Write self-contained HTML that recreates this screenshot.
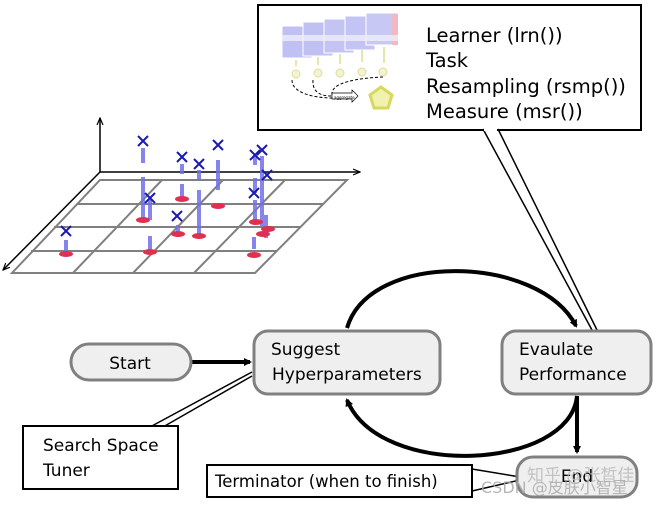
<!DOCTYPE html>
<html><head><style>
html,body{margin:0;padding:0;background:#fff;}
svg{display:block;}
text{font-family:"DejaVu Sans","Liberation Sans",sans-serif;}
</style></head><body>
<svg width="668" height="505" viewBox="0 0 668 505" xmlns="http://www.w3.org/2000/svg">
<defs>
<marker id="ah" markerWidth="8" markerHeight="8" refX="6" refY="4" orient="auto" markerUnits="userSpaceOnUse"><path d="M0,0 L8,4 L0,8 Z" fill="#000"/></marker>
<marker id="ax" markerWidth="8" markerHeight="8" refX="7" refY="4" orient="auto" markerUnits="userSpaceOnUse"><path d="M0,1 L7,4 L0,7" fill="none" stroke="#000" stroke-width="1.2"/></marker>
</defs>
<!-- callout top -->
<rect x="258" y="5" width="383" height="125" fill="#fff" stroke="#000" stroke-width="2"/>
<path d="M483,129 L592,330 M498,129 L597,330" stroke="#000" stroke-width="1.5" fill="none"/>
<rect x="484" y="128" width="13" height="3" fill="#fff"/>
<!-- mini image -->
<g stroke="#fff" stroke-width="1">
<rect x="282" y="26" width="30" height="32" fill="#c0c0f4"/>
<rect x="303" y="22" width="30" height="34" fill="#c0c0f2"/>
<rect x="324" y="19" width="30" height="34" fill="#c4c4f4"/>
<rect x="345" y="16" width="30" height="34" fill="#c4c4f4"/>
<rect x="366" y="13" width="32" height="32" fill="#c8c8f4"/>
</g>
<rect x="392" y="14" width="6" height="31" fill="#f4b8c0"/>
<rect x="282" y="35" width="116" height="6" fill="#eeeefa" opacity="0.8"/>
<g stroke="#dede90" stroke-width="1.5"><path d="M296,60v6 M318,57v8 M340,54v10 M362,50v12 M384,47v16"/></g>
<g fill="#f2f2d8" stroke="#dede90"><circle cx="296" cy="74" r="4"/><circle cx="318" cy="73" r="4"/><circle cx="340" cy="73" r="4"/><circle cx="362" cy="72" r="4"/><circle cx="383" cy="72" r="4"/></g>
<path d="M292,80 C292,95 320,98 332,98 M313,80 C312,95 325,96 332,96 M332,95 C330,82 360,78 383,77" stroke="#000" stroke-dasharray="3,2" fill="none"/>
<path d="M332,93 h20 v-3 l6,6 l-6,6 v-3 h-20 z" fill="#fff" stroke="#000" stroke-width="0.7"/>
<text x="334" y="99" font-size="4">aggregate</text>
<path d="M381,87 L392,95 L388,108 L374,108 L370,95 Z" fill="#f2f2b0" stroke="#d8d860" stroke-width="3"/>
<text x="426" y="42" font-size="19.5">Learner (lrn())</text>
<text x="426" y="67" font-size="19.5">Task</text>
<text x="426" y="93" font-size="19.5">Resampling (rsmp())</text>
<text x="426" y="118" font-size="19.5">Measure (msr())</text>
<!-- grid -->
<g stroke="#808080" stroke-width="2" fill="none">
<path d="M100,180 L347,180 L255,273 L12,273 Z"/>
<path d="M77,204 L323,204 M54,227 L300,227 M31,251 L277,251"/>
<path d="M162,180 L73,273 M223,180 L133,273 M285,180 L194,273"/>
</g>
<g stroke="#000" stroke-width="1.5" fill="none">
<path d="M100,172 L100,118" marker-end="url(#ax)"/>
<path d="M100,172 L360,172" marker-end="url(#ax)"/>
<path d="M100,172 L3,270" marker-end="url(#ax)"/>
</g>
<!-- stems and points -->
<g stroke="#7070e8" stroke-width="4" opacity="0.85">
<path d="M143,148v15 M143,177v42 M182,164v10 M182,184v17 M199,170v10 M199,190v45 M218,160v30 M255,155v10 M262,156v70 M255,178v15 M255,200v22 M66,240v12 M150,200v20 M150,236v14 M178,225v12 M266,215v14 M266,228v10 M254,237v12"/>
</g>
<g fill="#e03050"><ellipse cx="143" cy="220" rx="7" ry="3"/><ellipse cx="182" cy="199" rx="7" ry="3"/><ellipse cx="199" cy="236" rx="7" ry="3"/><ellipse cx="218" cy="206" rx="7" ry="3"/><ellipse cx="256" cy="222" rx="7" ry="3"/><ellipse cx="268" cy="229" rx="7" ry="3"/><ellipse cx="263" cy="234" rx="7" ry="3"/><ellipse cx="66" cy="254" rx="7" ry="3"/><ellipse cx="150" cy="252" rx="7" ry="3"/><ellipse cx="178" cy="234" rx="7" ry="3"/><ellipse cx="254" cy="255" rx="7" ry="3"/></g>
<g stroke="#1a1ab0" stroke-width="2">
<path d="M138,136l10,10m0,-10l-10,10 M177,152l10,10m0,-10l-10,10 M194,159l10,10m0,-10l-10,10 M213,140l10,10m0,-10l-10,10 M250,150l10,10m0,-10l-10,10 M257,145l10,10m0,-10l-10,10 M262,170l10,10m0,-10l-10,10 M145,193l10,10m0,-10l-10,10 M249,188l10,10m0,-10l-10,10 M172,211l10,10m0,-10l-10,10 M61,226l10,10m0,-10l-10,10"/>
</g>
<!-- flow arcs -->
<path d="M347,328 C370,250 540,255 576,326" stroke="#000" stroke-width="4" fill="none" marker-end="url(#ah)"/>
<path d="M577,396 C570,470 380,480 347,400" stroke="#000" stroke-width="4" fill="none" marker-end="url(#ah)"/>
<path d="M577,396 L577,452" stroke="#000" stroke-width="4" fill="none" marker-end="url(#ah)"/>
<path d="M192,362 L250,362" stroke="#000" stroke-width="4" fill="none" marker-end="url(#ah)"/>
<!-- callout lines -->
<path d="M150,427 L252,372 M163,427 L252,376" stroke="#000" stroke-width="1.5" fill="none"/>
<path d="M472,469 L520,477 M472,491 L520,480" stroke="#000" stroke-width="1.5" fill="none"/>
<!-- nodes -->
<rect x="71" y="344" width="120" height="36" rx="18" fill="#efefef" stroke="#808080" stroke-width="3"/>
<text x="130" y="369" font-size="17" text-anchor="middle">Start</text>
<rect x="254" y="331" width="186" height="63" rx="14" fill="#efefef" stroke="#808080" stroke-width="3"/>
<text x="271" y="355" font-size="17">Suggest</text>
<text x="272" y="380" font-size="17">Hyperparameters</text>
<rect x="502" y="331" width="149" height="63" rx="14" fill="#efefef" stroke="#808080" stroke-width="3"/>
<text x="519" y="355" font-size="17">Evaulate</text>
<text x="519" y="380" font-size="17">Performance</text>
<rect x="517" y="457" width="120" height="40" rx="16" fill="#efefef" stroke="#808080" stroke-width="3"/>
<text x="577" y="482" font-size="17" text-anchor="middle">End</text>
<rect x="23" y="426" width="155" height="63" fill="#fff" stroke="#000" stroke-width="2"/>
<text x="43" y="451" font-size="17">Search Space</text>
<text x="43" y="476" font-size="17">Tuner</text>
<rect x="207" y="465" width="265" height="32" fill="#fff" stroke="#000" stroke-width="2"/>
<text x="215" y="487" font-size="16.5">Terminator (when to finish)</text>
<!-- watermark -->
<text x="527" y="481" font-size="17" fill="#bbb" font-family="'Liberation Sans','Noto Sans CJK SC',sans-serif" opacity="0.85">知乎 @张晳佳</text>
<text x="481" y="493" font-size="16" fill="#aaa" font-family="'Liberation Sans','Noto Sans CJK SC',sans-serif" opacity="0.85">CSDN @皮肤小智星</text>
</svg>
</body></html>
